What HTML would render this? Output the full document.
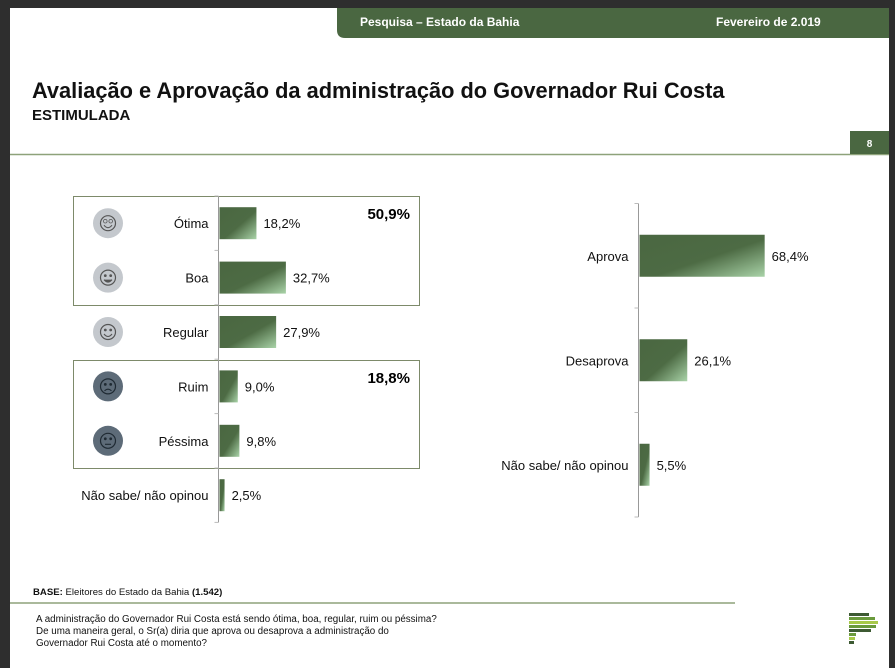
<!DOCTYPE html>
<html><head><meta charset="utf-8">
<style>
body{margin:0;width:895px;height:660px;background:#2e2e2e;overflow:hidden;font-family:"Liberation Sans",sans-serif;}
#page{position:absolute;left:10px;top:8px;width:879px;height:660px;background:#fff;}
svg{position:absolute;left:0;top:0;}
</style></head><body>
<div id="page"></div>
<svg id="s" width="895" height="660">
<defs>
<linearGradient id="g" x1="0" y1="0" x2="1" y2="1">
<stop offset="0" stop-color="#4a6741"/><stop offset="0.55" stop-color="#4d6b44"/><stop offset="1" stop-color="#a9d3a8"/>
</linearGradient>
</defs>
<path d="M337,8 H889 V38 H345 Q337,38 337,30 Z" fill="#4a6741"/>
<text x="360" y="26" font-size="12" font-weight="bold" fill="#fff">Pesquisa – Estado da Bahia</text>
<text x="716" y="26" font-size="12" font-weight="bold" fill="#fff">Fevereiro de 2.019</text>
<text x="32" y="98" font-size="21.8" font-weight="bold" fill="#111">Avaliação e Aprovação da administração do Governador Rui Costa</text>
<text x="32" y="120" font-size="15" font-weight="bold" fill="#111">ESTIMULADA</text>
<line x1="10" y1="154.5" x2="889" y2="154.5" stroke="#8ea27a" stroke-width="1.5"/>
<rect x="850" y="131" width="39" height="23" fill="#4a6741"/>
<text x="869.5" y="147" font-size="10" font-weight="bold" fill="#fff" text-anchor="middle">8</text>
<rect x="73.5" y="196.5" width="346" height="109" fill="none" stroke="#7d8a6a"/>
<rect x="73.5" y="360.5" width="346" height="108" fill="none" stroke="#7d8a6a"/>
<text x="410" y="219" font-size="15" font-weight="bold" text-anchor="end">50,9%</text>
<text x="410" y="383" font-size="15" font-weight="bold" text-anchor="end">18,8%</text>
<g id="left"></g><g id="right"></g>
<text x="33" y="595" font-size="9.6" fill="#111"><tspan font-weight="bold">BASE:</tspan> Eleitores do Estado da Bahia <tspan font-weight="bold">(1.542)</tspan></text>
<line x1="10" y1="603" x2="735" y2="603" stroke="#8ea27a" stroke-width="1.5"/>
<text font-size="9.8" fill="#111"><tspan x="36" y="622">A administração do Governador Rui Costa está sendo ótima, boa, regular, ruim ou péssima?</tspan><tspan x="36" y="634">De uma maneira geral, o Sr(a) diria que aprova ou desaprova a administração do</tspan><tspan x="36" y="646">Governador Rui Costa até o momento?</tspan></text>
<g>
<rect x="849" y="613" width="20" height="3" fill="#3d5a33"/><rect x="849" y="617" width="26" height="3" fill="#6a9a3c"/><rect x="849" y="621" width="29" height="3" fill="#a8c94a"/><rect x="849" y="625" width="27" height="3" fill="#6a9a3c"/><rect x="849" y="629" width="22" height="3" fill="#3d5a33"/><rect x="849" y="633" width="7" height="3" fill="#6a9a3c"/><rect x="849" y="637" width="6" height="3" fill="#a8c94a"/><rect x="849" y="641" width="5" height="3" fill="#3d5a33"/>
</g>
</svg>
<script>
const leftCats=["Ótima","Boa","Regular","Ruim","Péssima","Não sabe/ não opinou"];
const leftVals=[18.2,32.7,27.9,9.0,9.8,2.5];
const leftLabels=["18,2%","32,7%","27,9%","9,0%","9,8%","2,5%"];
const rightCats=["Aprova","Desaprova","Não sabe/ não opinou"];
const rightVals=[68.4,26.1,5.5];
const rightLabels=["68,4%","26,1%","5,5%"];
const faces=["star","grin","smile","sad","flat",null];
const NS="http://www.w3.org/2000/svg";
function mk(p,t,a){const e=document.createElementNS(NS,t);for(const k in a)e.setAttribute(k,a[k]);p.appendChild(e);return e;}
function chart(g,cats,vals,labels,x0,yTop,step,bh,ppx,drawFaces){
  const xS=v=>x0+v*ppx, yS=i=>yTop+step*(i+0.5);
  const ax=mk(g,'line',{x1:x0,y1:yTop,x2:x0,y2:yTop+step*cats.length,stroke:'#999'});
  
  
  for(let i=0;i<=cats.length;i++){const t=mk(g,'line',{x1:x0-4,x2:x0,y1:yTop+step*i,y2:yTop+step*i,stroke:'#bbb'});
    
    }
  cats.forEach((c,i)=>{
    const y=yS(i);
    const r=mk(g,'rect',{x:x0+1,y:y-bh/2,width:xS(vals[i])-x0,height:bh,fill:'url(#g)'});
    
    
    const l=mk(g,'text',{x:x0-10,y:y+5,'font-size':13,'text-anchor':'end',fill:'#111'});l.textContent=c;
    
    
    const v=mk(g,'text',{x:xS(vals[i])+8,y:y+5,'font-size':13,fill:'#111'});v.textContent=labels[i];
    
    
    if(drawFaces&&faces[i]){
      const dark=i>=3, cx=108;
      const fg=mk(g,'g',{});
      
      
      const col=dark?'#1f2a33':'#555';
      mk(fg,'circle',{cx:cx,cy:y,r:15,fill:dark?'#5d6b78':'#c4c8cd'});
      mk(fg,'circle',{cx:cx,cy:y,r:7.5,fill:'none',stroke:col,'stroke-width':1.2});
      mk(fg,'circle',{cx:cx-2.7,cy:y-2,r:faces[i]=='star'?1.8:1,fill:faces[i]=='star'?'none':col,stroke:col,'stroke-width':0.8});
      mk(fg,'circle',{cx:cx+2.7,cy:y-2,r:faces[i]=='star'?1.8:1,fill:faces[i]=='star'?'none':col,stroke:col,'stroke-width':0.8});
      let d;
      if(faces[i]=='sad')d=`M${cx-3.5},${y+4.5} Q${cx},${y+1} ${cx+3.5},${y+4.5}`;
      else if(faces[i]=='flat')d=`M${cx-3},${y+3.5} L${cx+3},${y+3.5}`;
      else d=`M${cx-4},${y+2} Q${cx},${y+7} ${cx+4},${y+2}`;
      mk(fg,'path',{d:d,fill:faces[i]=='grin'?col:'none',stroke:col,'stroke-width':1.1});
    }
  });
}
chart(document.getElementById('left'),leftCats,leftVals,leftLabels,218.5,196,54.4,32,2.03,true);
chart(document.getElementById('right'),rightCats,rightVals,rightLabels,638.5,203.5,104.5,42,1.83,false);
</script>
</body></html>
